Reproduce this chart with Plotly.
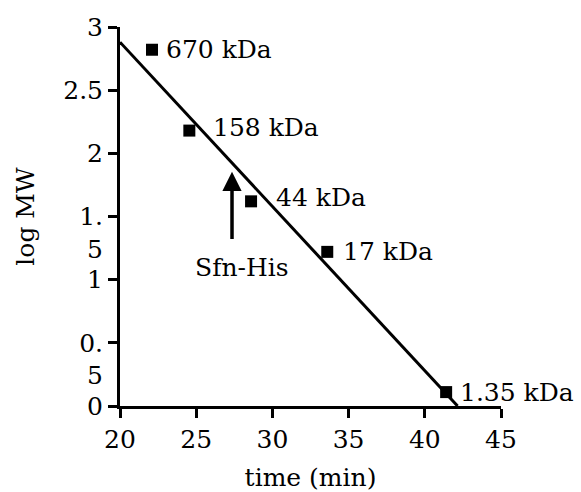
import plotly.graph_objects as go

# Data
time_min = [22.1, 24.55, 28.6, 33.6, 41.4]
log_mw = [2.82, 2.18, 1.62, 1.22, 0.11]
labels = ["670 kDa", "158 kDa", "44 kDa", "17 kDa", "1.35 kDa"]
fit_x = [20.0, 42.15]
fit_y = [2.88, 0.0]
arrow_x = 27.35
arrow_tip_y = 1.855
arrow_base_y = 1.31
arrow_label = "Sfn-His"
arrow_label_pos = (28.03, 1.10)
x_ticks = [20, 25, 30, 35, 40, 45]
y_ticks = [0, 0.5, 1, 1.5, 2, 2.5, 3]
y_ticktext = ["0", "&nbsp;<br>0.<br>5", "1", "&nbsp;<br>1.<br>5", "2", "2.5", "3"]

# Style
label_xshift = [12, 22, 23, 14, 12]
label_yshift = [0, 3, 4, 0, 0]
FONT = "DejaVu Serif"
FS = 25

fig = go.Figure()
fig.add_trace(go.Scatter(x=fit_x, y=fit_y, mode="lines",
                         line=dict(color="black", width=3), showlegend=False,
                         hoverinfo="skip"))
fig.add_trace(go.Scatter(x=time_min, y=log_mw, mode="markers",
                         marker=dict(symbol="square", size=12, color="black"),
                         showlegend=False))

for xv, yv, t, dx, dy in zip(time_min, log_mw, labels, label_xshift, label_yshift):
    fig.add_annotation(x=xv, y=yv, text=t, showarrow=False, xanchor="left",
                       yanchor="middle", xshift=dx, yshift=dy,
                       font=dict(family=FONT, size=FS, color="black"))

fig.add_annotation(x=arrow_x, y=arrow_tip_y, ax=arrow_x, ay=arrow_base_y,
                   xref="x", yref="y", axref="x", ayref="y", text="",
                   showarrow=True, arrowhead=2, arrowsize=1.1, arrowwidth=3.5,
                   arrowcolor="black", standoff=0, startstandoff=0)
fig.add_annotation(x=arrow_label_pos[0], y=arrow_label_pos[1], text=arrow_label,
                   showarrow=False, xanchor="center", yanchor="middle",
                   font=dict(family=FONT, size=FS, color="black"))

axis_common = dict(showgrid=False, zeroline=False, showline=True, linecolor="black",
                   linewidth=3, ticks="outside", ticklen=9, tickwidth=3,
                   tickcolor="black", tickfont=dict(family=FONT, size=FS, color="black"),
                   automargin=False)

fig.update_xaxes(range=[20, 45], tickvals=x_ticks, ticktext=[str(v) for v in x_ticks],
                 title=dict(text="time (min)", font=dict(family=FONT, size=FS, color="black"),
                            standoff=16),
                 **axis_common)
fig.update_yaxes(range=[0, 3], tickvals=y_ticks, ticktext=y_ticktext,
                 title=dict(text="log MW", font=dict(family=FONT, size=FS, color="black"),
                            standoff=22),
                 **axis_common)

fig.update_layout(width=581, height=492, plot_bgcolor="white", paper_bgcolor="white",
                  margin=dict(l=120, r=80, t=27, b=86))

fig.write_html("out.html")
